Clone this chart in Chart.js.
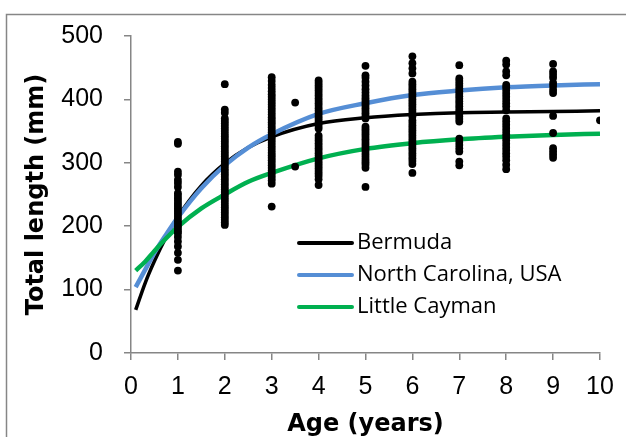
<!DOCTYPE html>
<html>
<head>
<meta charset="utf-8">
<style>
  html, body { margin: 0; padding: 0; background: #fff; }
  #wrap { width: 626px; height: 437px; }
</style>
<script src="https://cdn.jsdelivr.net/npm/chart.js@4.4.0/dist/chart.umd.min.js"></script>
</head>
<body>
<div id="wrap"><canvas id="chart" width="626" height="437"></canvas></div>
<script>
(function () {
  "use strict";

  // ── Observed lengths (mm) by age ─────────────
  const LEN_AGE_1 = [333, 330, 286, 281, 273, 268, 262, 252, 248, 244, 240, 236, 232, 228, 224, 220, 216, 212, 208, 204, 200, 196, 192, 189, 183, 176, 168, 158, 147, 130];
  const LEN_AGE_2 = [424, 384, 379, 370, 366, 362, 358, 354, 350, 346, 342, 338, 334, 330, 326, 322, 318, 314, 310, 306, 302, 298, 294, 290, 286, 282, 278, 274, 270, 266, 262, 258, 254, 250, 246, 242, 238, 234, 230, 226, 222, 218, 214, 210, 206, 202];
  const LEN_AGE_3 = [435, 429, 423, 418, 413, 408, 404, 400, 396, 392, 388, 384, 380, 376, 372, 368, 364, 360, 356, 352, 348, 344, 340, 336, 332, 328, 324, 320, 316, 312, 308, 304, 300, 296, 292, 288, 284, 280, 276, 272, 267, 231];
  const LEN_AGE_3_5 = [395, 294];
  const LEN_AGE_4 = [430, 426, 422, 418, 414, 410, 406, 402, 398, 394, 390, 386, 382, 378, 374, 370, 366, 362, 358, 354, 343, 339, 335, 331, 327, 323, 319, 315, 311, 307, 303, 299, 295, 291, 287, 283, 279, 274, 265];
  const LEN_AGE_5 = [453, 438, 434, 428, 422, 416, 411, 406, 402, 398, 394, 390, 386, 382, 378, 374, 370, 357, 353, 349, 345, 341, 337, 333, 329, 325, 321, 317, 313, 309, 305, 301, 297, 292, 262];
  const LEN_AGE_6 = [468, 457, 449, 441, 428, 424, 420, 416, 412, 408, 404, 400, 396, 392, 388, 384, 380, 376, 373, 367, 363, 359, 355, 351, 347, 343, 339, 335, 331, 327, 323, 319, 315, 311, 307, 303, 298, 284];
  const LEN_AGE_7 = [454, 433, 429, 425, 421, 417, 413, 409, 405, 401, 397, 393, 389, 385, 381, 377, 373, 369, 365, 338, 333, 328, 323, 318, 302, 296];
  const LEN_AGE_8 = [461, 455, 444, 438, 423, 419, 414, 409, 404, 399, 394, 389, 383, 370, 365, 360, 355, 350, 345, 340, 335, 330, 325, 320, 315, 310, 304, 297, 290];
  const LEN_AGE_9 = [456, 444, 439, 434, 426, 421, 415, 410, 374, 347, 323, 318, 313, 308];
  const LEN_AGE_10 = [367];

  const OBS_AGES = [1, 2, 3, 3.5, 4, 5, 6, 7, 8, 9, 10];
  const OBS_LENGTHS = [LEN_AGE_1, LEN_AGE_2, LEN_AGE_3, LEN_AGE_3_5, LEN_AGE_4, LEN_AGE_5, LEN_AGE_6, LEN_AGE_7, LEN_AGE_8, LEN_AGE_9, LEN_AGE_10];

  // ── Growth curves ────────────────────────────
  const CURVE_AGES    = [0.1, 0.3, 0.5, 0.75, 1, 1.5, 2, 2.5, 3, 4, 5, 6, 7, 8, 9, 10];
  const FIT_BERMUDA   = [68, 110, 145, 183, 215, 264, 299, 324, 341, 362, 371, 376, 379, 380, 381, 382];
  const FIT_CAROLINA  = [104, 131, 158, 187, 214, 260, 296, 324, 345, 377, 394, 407, 414, 419, 422, 424];
  const FIT_CAYMAN    = [130, 144, 161, 181, 199, 228, 250, 270, 284, 307, 322, 331, 337, 341, 344, 346];

  const SERIES_LABELS = ["Bermuda", "North Carolina, USA", "Little Cayman"];
  const SERIES_COLORS = ["#000000", "#558ED5", "#00B050"];
  const SERIES_WIDTHS = [3.5, 4.5, 4.5];

  const X_TICKS = [0, 1, 2, 3, 4, 5, 6, 7, 8, 9, 10];
  const Y_TICKS = [0, 100, 200, 300, 400, 500];

  const AXIS_GREY = "#868686";

  // ── Build datasets ──────────────────────────
  const observed = [];
  OBS_AGES.forEach((age, i) => {
    OBS_LENGTHS[i].forEach((len) => observed.push({ x: age, y: len }));
  });

  function curve(values) {
    return CURVE_AGES.map((a, i) => ({ x: a, y: values[i] }));
  }
  const fits = [FIT_BERMUDA, FIT_CAROLINA, FIT_CAYMAN];

  const datasets = [{
    label: "Observed",
    data: observed,
    pointRadius: 3.9,
    pointBackgroundColor: "#000",
    pointBorderWidth: 0,
    showLine: false,
    order: 0
  }];
  fits.forEach((vals, i) => {
    datasets.push({
      label: SERIES_LABELS[i],
      data: curve(vals),
      showLine: true,
      borderColor: SERIES_COLORS[i],
      borderWidth: SERIES_WIDTHS[i],
      pointRadius: 0,
      fill: false,
      cubicInterpolationMode: "monotone",
      order: 3 - i
    });
  });

  // ── Plugins ─────────────────────────────────
  const framePlugin = {
    id: "frame",
    beforeDraw(chart) {
      const ctx = chart.ctx;
      ctx.save();
      ctx.fillStyle = "#fff";
      ctx.fillRect(0, 0, chart.width, chart.height);
      ctx.strokeStyle = AXIS_GREY;
      ctx.lineWidth = 1.5;
      ctx.strokeRect(6.5, 14.5, 900, 700);
      ctx.restore();
    }
  };

  const insideLegend = {
    id: "insideLegend",
    afterDatasetsDraw(chart) {
      const ctx = chart.ctx;
      ctx.save();
      ctx.font = "22px 'Open Sans'";
      ctx.textBaseline = "middle";
      ctx.fillStyle = "#000";
      SERIES_LABELS.forEach((label, i) => {
        const y = 243 + i * 32;
        ctx.strokeStyle = SERIES_COLORS[i];
        ctx.lineWidth = 4;
        ctx.lineCap = "round";
        ctx.beginPath();
        ctx.moveTo(299, y);
        ctx.lineTo(352, y);
        ctx.stroke();
        ctx.fillText(label, 357, y);
      });
      ctx.restore();
    }
  };

  const tickFont = { family: "'Liberation Sans', Arial, sans-serif", size: 25 };
  const titleFont = { family: "'DejaVu Sans', sans-serif", size: 24, weight: "bold" };

  new Chart(document.getElementById("chart"), {
    type: "scatter",
    data: { datasets },
    options: {
      responsive: false,
      animation: false,
      layout: { padding: { left: 22, top: 35, right: 26, bottom: 0 } },
      plugins: { legend: { display: false }, tooltip: { enabled: false } },
      scales: {
        x: {
          type: "linear",
          min: 0,
          max: 10,
          afterBuildTicks(scale) { scale.ticks = X_TICKS.map((v) => ({ value: v })); },
          afterFit(scale) { scale.height = 84; },
          ticks: { color: "#000", font: tickFont, padding: 12, maxRotation: 0 },
          grid: { drawOnChartArea: false, drawTicks: true, tickLength: 7, color: AXIS_GREY, lineWidth: 1.5 },
          border: { display: true, color: AXIS_GREY, width: 1.5 },
          title: { display: true, text: "Age (years)", color: "#000", font: titleFont, padding: { top: 0, bottom: -2 } }
        },
        y: {
          type: "linear",
          min: 0,
          max: 500,
          afterBuildTicks(scale) { scale.ticks = Y_TICKS.map((v) => ({ value: v })); },
          afterFit(scale) { scale.width = 109; },
          ticks: { color: "#000", font: tickFont, padding: 21 },
          grid: { drawOnChartArea: false, drawTicks: true, tickLength: 7, color: AXIS_GREY, lineWidth: 1.5 },
          border: { display: true, color: AXIS_GREY, width: 1.5 },
          title: { display: true, text: "Total length (mm)", color: "#000", font: titleFont, padding: { top: 0, bottom: 0 } }
        }
      }
    },
    plugins: [framePlugin, insideLegend]
  });
})();
</script>
</body>
</html>
